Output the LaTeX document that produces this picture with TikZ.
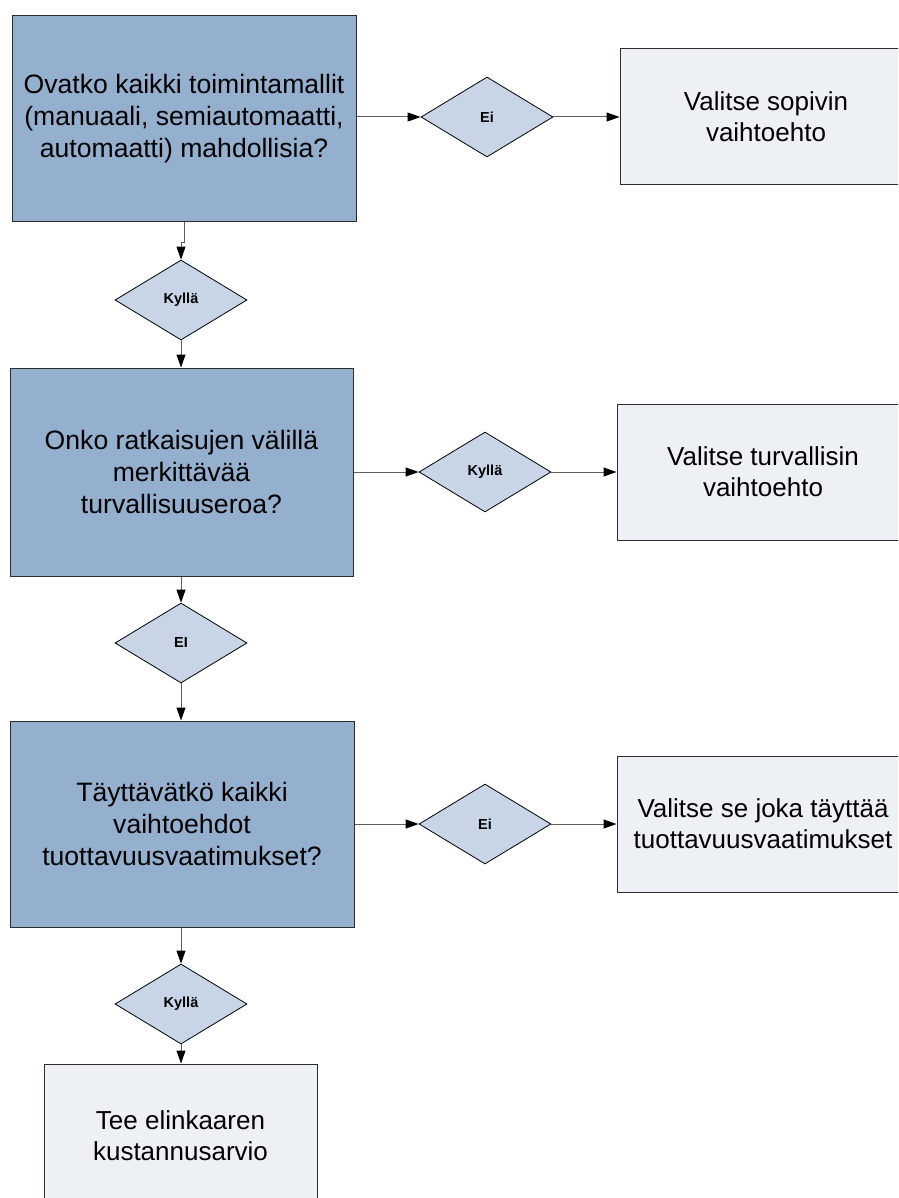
\documentclass[tikz,border=0pt]{standalone}
\usepackage{fontspec}
\setmainfont{Liberation Sans}
\usetikzlibrary{arrows.meta}
\usetikzlibrary{shapes.geometric}
\definecolor{darkfill}{RGB}{149,176,207}
\definecolor{lightfill}{RGB}{237,240,245}
\definecolor{decfill}{RGB}{199,213,230}
\definecolor{edgegray}{RGB}{45,45,45}
\definecolor{linegray}{RGB}{95,95,95}

\begin{document}
\begin{tikzpicture}[x=1pt,y=-1pt]
  \tikzset{question/.style={draw=edgegray, fill=darkfill, line width=1pt, align=center, inner sep=0pt,
      minimum width=344pt, minimum height=206pt, font=\fontsize{26.6}{32}\selectfont}}
  \tikzset{answer/.style={draw=edgegray, fill=lightfill, line width=1pt, align=center, inner sep=0pt,
      minimum width=292pt, minimum height=136pt, font=\fontsize{26}{31}\selectfont}}
  \tikzset{choice/.style={diamond, draw=black, fill=decfill, line width=0.8pt, inner sep=0pt,
      minimum width=132pt, minimum height=80pt, font=\bfseries\fontsize{14.5}{17}\selectfont}}
  \tikzset{line/.style={draw=linegray, line width=1pt, -{Triangle[length=13pt,width=9pt,color=black]}}}

  \useasboundingbox (0,0) rectangle (898,1198);
  \clip (0,0) rectangle (898,1198);

  % first question
  \node[question] (ovatko) at (184,119) {Ovatko kaikki toimintamallit\\(manuaali, semiautomaatti,\\automaatti) mahdollisia?};
  \node[choice] (ei1) at (487,117) {Ei};
  \node[answer] (sopivin) at (766,117) {Valitse sopivin\\vaihtoehto};
  \node[choice] (kylla1) at (181,300) {Kyllä};

  % second question
  \node[question, minimum width=343pt, minimum height=208pt] (onko) at (181.5,472) {Onko ratkaisujen välillä\\merkittävää\\turvallisuuseroa?};
  \node[choice] (kylla2) at (485,472) {Kyllä};
  \node[answer] (turvallisin) at (763,472) {Valitse turvallisin\\vaihtoehto};
  \node[choice] (ei2) at (181,643) {EI};

  % third question
  \node[question] (tayttavatko) at (182,824) {Täyttävätkö kaikki\\vaihtoehdot\\tuottavuusvaatimukset?};
  \node[choice] (ei3) at (485,824) {Ei};
  \node[answer] (tayttaa) at (763,824) {Valitse se joka täyttää\\tuottavuusvaatimukset};
  \node[choice] (kylla3) at (181,1004) {Kyllä};
  \node[answer, minimum width=273pt, minimum height=144pt] (elinkaari) at (180.5,1136) {Tee elinkaaren\\kustannusarvio};

  \draw[line] (ovatko.east |- ei1.west) -- (ei1.west);
  \draw[line] (ei1.east) -- (sopivin.west);
  \draw[line] (ovatko.south) -- ++(0,20) -| (kylla1.north);
  \draw[line] (kylla1.south) -- (kylla1.south |- onko.north);

  \draw[line] (onko.east) -- (kylla2.west);
  \draw[line] (kylla2.east) -- (turvallisin.west);
  \draw[line] (ei2.north |- onko.south) -- (ei2.north);
  \draw[line] (ei2.south) -- (ei2.south |- tayttavatko.north);

  \draw[line] (tayttavatko.east) -- (ei3.west);
  \draw[line] (ei3.east) -- (tayttaa.west);
  \draw[line] (kylla3.north |- tayttavatko.south) -- (kylla3.north);
  \draw[line] (kylla3.south) -- (kylla3.south |- elinkaari.north);

\end{tikzpicture}
\end{document}
